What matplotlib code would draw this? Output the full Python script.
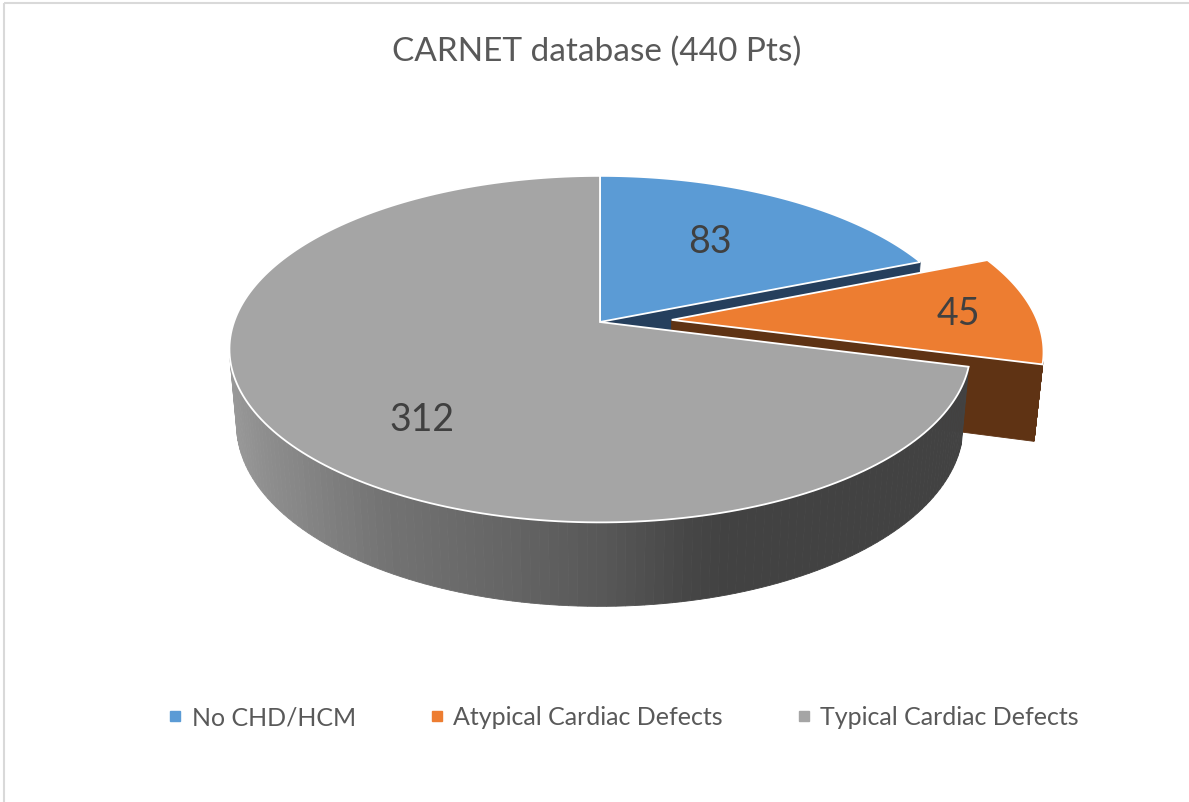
import numpy as np
import matplotlib.pyplot as plt
from matplotlib.lines import Line2D
from matplotlib.patches import Rectangle

# data
labels = ['No CHD/HCM', 'Atypical Cardiac Defects', 'Typical Cardiac Defects']
counts = [83, 45, 312]
title = 'CARNET database (440 Pts)'

# styling
top_colors = ['#5b9bd5', '#ed7d31', '#a5a5a5']
side_colors = ['#253f5d', '#5f3314', None]   # None -> shaded gray
explode_px = [0, 72, 0]
label_pos = [(710, 242), (958, 314), (422, 420)]

plt.rcParams['font.family'] = ['Lato', 'DejaVu Sans']

fig = plt.figure(figsize=(11.89, 8.03), dpi=100)
ax = fig.add_axes([0, 0, 1, 1])
ax.set_xlim(0, 1189)
ax.set_ylim(803, 0)
ax.axis('off')

# perspective view of a tilted disc
R = 366
PHI = np.radians(27.5)
DIST = 2073
THICK = 86
CX, CY = 600, 323
CAM = np.array([0.0, -DIST * np.cos(PHI), DIST * np.sin(PHI)])


def proj(u, v, h):
    up = v * np.sin(PHI) + h * np.cos(PHI)
    depth = v * np.cos(PHI) - h * np.sin(PHI)
    w = 1 + depth / DIST
    return CX + u / w, CY - up / w


def facing(nx, ny, px, py, pz):
    return nx * (CAM[0] - px) + ny * (CAM[1] - py) > 0


def gray_side(t):
    c = np.cos(t)
    b = np.interp(c, [-1, -0.75, -0.5, -0.2, 0.0, 0.2, 0.3, 1.0],
                  [155, 135, 114, 100, 88, 70, 66, 66])
    return (b / 255, b / 255, b / 255)


total = sum(counts)
angles = 90 - 360 * np.concatenate([[0], np.cumsum(counts) / total])

for i in range(len(counts)):
    a0, a1 = np.radians(angles[i]), np.radians(angles[i + 1])
    mid = (a0 + a1) / 2
    ox, oy = explode_px[i] * np.cos(mid), explode_px[i] * np.sin(mid)
    ts = np.linspace(a0, a1, 200)
    side = side_colors[i]

    # outer rim
    for k in range(len(ts) - 1):
        tm = (ts[k] + ts[k + 1]) / 2
        px, py = ox + R * np.cos(tm), oy + R * np.sin(tm)
        if not facing(np.cos(tm), np.sin(tm), px, py, 0):
            continue
        t2 = ts[k:k + 2]
        uu = np.concatenate([ox + R * np.cos(t2), (ox + R * np.cos(t2))[::-1]])
        vv = np.concatenate([oy + R * np.sin(t2), (oy + R * np.sin(t2))[::-1]])
        hh = np.array([0, 0, -THICK, -THICK])
        xs, ys = proj(uu, vv, hh)
        col = side if side else gray_side(tm)
        ax.fill(xs, ys, color=col, lw=0.6, ec=col, zorder=1)

    # cut faces
    for a, sgn in ((a0, 1), (a1, -1)):
        nx, ny = -sgn * np.sin(a), sgn * np.cos(a)
        if not facing(nx, ny, ox, oy, 0):
            continue
        uu = np.array([ox, ox + R * np.cos(a), ox + R * np.cos(a), ox])
        vv = np.array([oy, oy + R * np.sin(a), oy + R * np.sin(a), oy])
        hh = np.array([0, 0, -THICK, -THICK])
        xs, ys = proj(uu, vv, hh)
        col = side if side else '#5a5a5a'
        ax.fill(xs, ys, color=col, lw=0.6, ec=col, zorder=1)

    # top face
    uu = np.concatenate([[ox], ox + R * np.cos(ts)])
    vv = np.concatenate([[oy], oy + R * np.sin(ts)])
    xs, ys = proj(uu, vv, np.zeros_like(uu))
    ax.fill(xs, ys, fc=top_colors[i], ec='white', lw=1.3, zorder=1)

for (lx, ly), n in zip(label_pos, counts):
    ax.text(lx, ly, str(n), fontsize=27, color='#404040',
            ha='center', va='center', zorder=3)

ax.text(597, 52, title, fontsize=24, color='#595959',
        ha='center', va='center')

handles = [Line2D([], [], ls='none', marker='s', ms=7, mfc=c, mec=c)
           for c in top_colors]
fig.legend(handles, labels, loc='center', ncol=3, frameon=False,
           bbox_to_anchor=(624 / 1189, 1 - 718 / 803), fontsize=18,
           labelcolor='#595959', handlelength=0.5, handletextpad=0.4,
           columnspacing=3.0)

ax.add_patch(Rectangle((4, 4), 1300, 900, fill=False, ec='#d9d9d9', lw=1.5))

fig.savefig('out.png', dpi=100)
